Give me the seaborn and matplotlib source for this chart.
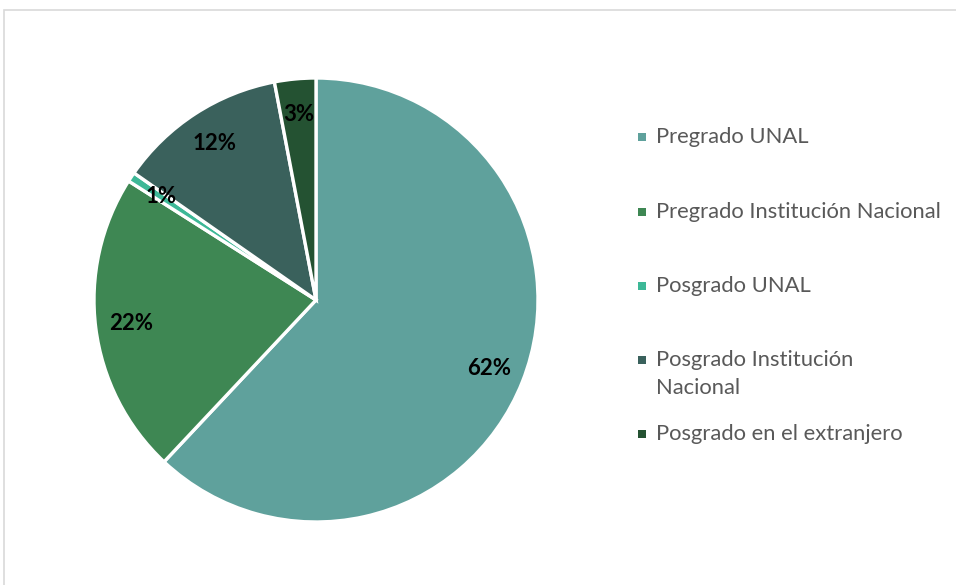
import matplotlib
matplotlib.use("Agg")
import matplotlib.pyplot as plt
from matplotlib.patches import Rectangle
import seaborn as sns

sns.set_theme(style="white")
plt.rcParams['font.family'] = ['Lato', 'DejaVu Sans']

W, H = 956, 585

# data
categories = ["Pregrado UNAL", "Pregrado Institución Nacional", "Posgrado UNAL",
              "Posgrado Institución Nacional", "Posgrado en el extranjero"]
shares = [62, 22, 0.7, 12.3, 3]
legend_lines = [["Pregrado UNAL"], ["Pregrado Institución Nacional"], ["Posgrado UNAL"],
                ["Posgrado Institución", "Nacional"], ["Posgrado en el extranjero"]]
colors = ["#5FA19C", "#3E8753", "#3DB897", "#3A615C", "#245232"]

fig = plt.figure(figsize=(W / 100, H / 100), dpi=100)
fig.patch.set_facecolor("white")

# outer chart frame (open to the right/bottom like the crop)
fig.add_artist(Rectangle((4 / W, -0.1), 1.2, 1 - 10 / H + 0.1, transform=fig.transFigure,
                         fill=False, edgecolor="#D9D9D9", linewidth=1.2))

# pie: centre (316, 300), radius 222 px
cx, cy, r = 316, 300, 222
ax = fig.add_axes([(cx - r) / W, (H - cy - r) / H, 2 * r / W, 2 * r / H])
wedges, _, autotexts = ax.pie(shares, colors=colors, startangle=90, counterclock=False,
                              autopct='%.0f%%', pctdistance=0.84,
                              wedgeprops=dict(edgecolor="white", linewidth=2.4),
                              textprops=dict(fontsize=16, fontweight="bold", color="black"))
ax.set_xlim(-1.0, 1.0)
ax.set_ylim(-1.0, 1.0)
ax.set_axis_off()

# legend drawn like the Excel one: square marker next to first line
ys = [137, 212, 286, 360, 434]
for lines, col, y in zip(legend_lines, colors, ys):
    fig.add_artist(Rectangle((638 / W, 1 - (y + 4) / H), 8 / W, 8 / H,
                             transform=fig.transFigure, facecolor=col, edgecolor="none"))
    for k, line in enumerate(lines):
        fig.text(656 / W, 1 - (y + 28 * k) / H, line, fontsize=15.8, color="#595959",
                 va="center", ha="left")

fig.savefig("out.png", dpi=100)
